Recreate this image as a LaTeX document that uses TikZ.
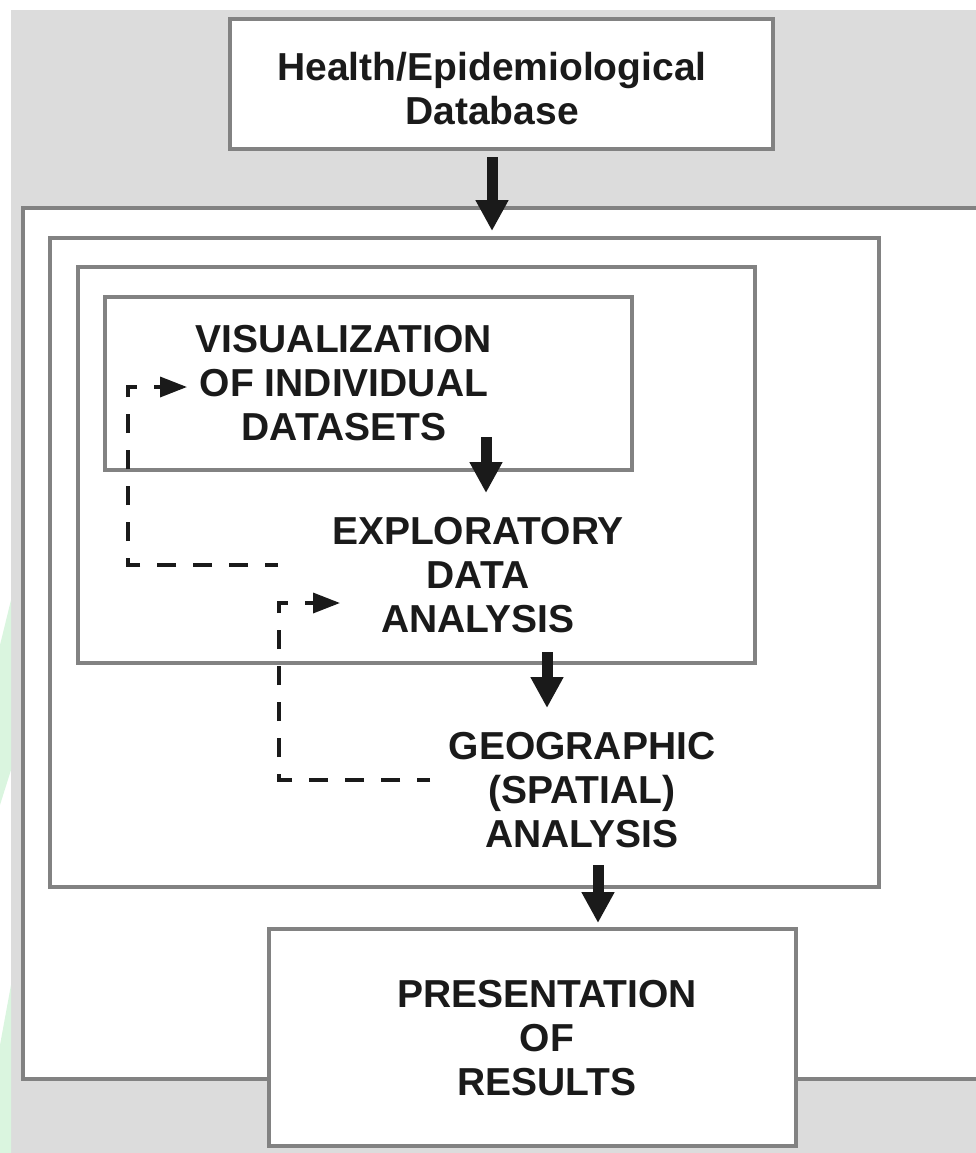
\documentclass[tikz,border=0pt]{standalone}
\usepackage{fontspec}
\setmainfont{Liberation Sans}
\usetikzlibrary{arrows.meta}

\definecolor{sheet}{HTML}{DCDCDC}
\definecolor{frameline}{HTML}{828282}
\definecolor{ink}{HTML}{1A1A1A}
\definecolor{mint}{HTML}{DAF5DF}

\tikzset{
  panel/.style={draw=frameline, line width=4pt, fill=white},
  label/.style={font=\bfseries\fontsize{39}{44}\selectfont, text=ink,
                align=center, inner sep=0pt, anchor=north},
  flow/.style={draw=ink, line width=11pt,
               -{Triangle[length=31pt,width=31pt]}},
  loopback/.style={draw=ink, line width=3.5pt,
                   dash pattern=on 19pt off 17pt, dash phase=6pt,
                   -{Triangle[length=27pt,width=20pt]}}
}

\begin{document}
\begin{tikzpicture}[x=1pt, y=-1pt]
  \useasboundingbox (0,0) rectangle (976,1153);
  \clip (0,0) rectangle (976,1153);

  % sheet and faint edge marks
  \fill[sheet] (11,10) rectangle (976,1153);
  \fill[mint] (11,600) -- (11,770) -- (0,805) -- (0,645) -- cycle;
  \fill[mint] (11,985) -- (11,1153) -- (0,1153) -- (0,1045) -- cycle;

  % nested process frames
  \draw[panel] (23,208) rectangle (1000,1079);
  \draw[panel] (50,238) rectangle (879,887);
  \draw[panel] (78,267) rectangle (755,663);
  \draw[panel] (105,297) rectangle (632,470);

  % source and output boxes
  \node[panel, minimum width=543pt, minimum height=130pt, inner sep=0pt]
    (dbbox) at (501.5,84) {};
  \node[panel, minimum width=527pt, minimum height=217pt, inner sep=0pt]
    (presbox) at (532.5,1037.5) {};

  % texts
  \node[label] (db) at (492,52) {Health/Epidemiological\\Database};
  \node[label] (vis) at (344,325) {VISUALIZATION\\OF INDIVIDUAL\\DATASETS};
  \node[label] (eda) at (478,517) {EXPLORATORY\\DATA\\ANALYSIS};
  \node[label] (geo) at (582,732) {GEOGRAPHIC\\(SPATIAL)\\ANALYSIS};
  \node[label] (pres) at (547,980) {PRESENTATION\\OF\\RESULTS};

  % main flow
  \coordinate (dbOut)   at (492,157);
  \coordinate (frameIn) at (492,231);
  \coordinate (visOut)  at (486,437);
  \coordinate (edaIn)   at (486,493);
  \coordinate (edaOut)  at (547,652);
  \coordinate (geoIn)   at (547,708);
  \coordinate (geoOut)  at (598,865);
  \coordinate (presIn)  at (598,923);
  \draw[flow] (dbOut) -- (frameIn);
  \draw[flow] (visOut) -- (edaIn);
  \draw[flow] (edaOut) -- (geoIn);
  \draw[flow] (geoOut) -- (presIn);

  % feedback loops
  \coordinate (edaBack) at (278,565);
  \coordinate (visTurn) at (128,387);
  \coordinate (visBack) at (187,387);
  \coordinate (geoBack) at (430,780);
  \coordinate (edaTurn) at (279,603);
  \coordinate (edaRet)  at (340,603);
  \draw[loopback] (edaBack) -| (visTurn) -- (visBack);
  \draw[loopback] (geoBack) -| (edaTurn) -- (edaRet);
\end{tikzpicture}
\end{document}
